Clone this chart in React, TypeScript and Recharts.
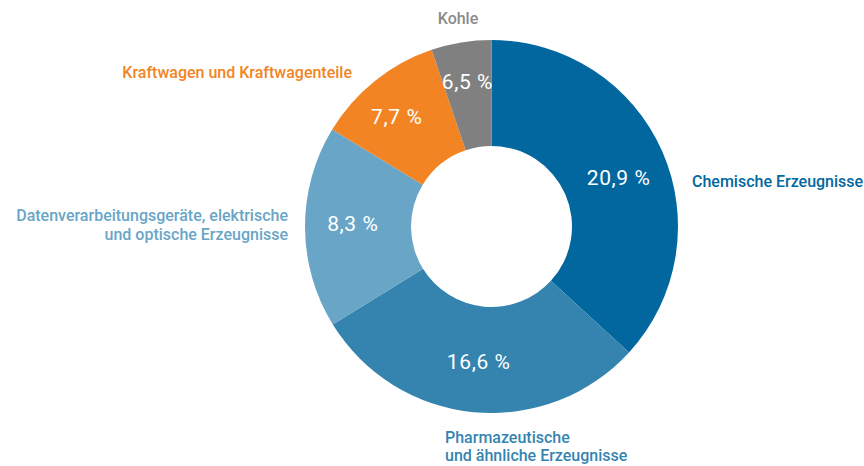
import { PieChart, Pie, Cell } from "recharts";

// slice shares (read from the arc sweeps) and the printed percentage labels
const categories = [
  "Chemische Erzeugnisse",
  "Pharmazeutische und ähnliche Erzeugnisse",
  "Datenverarbeitungsgeräte, elektrische und optische Erzeugnisse",
  "Kraftwagen und Kraftwagenteile",
  "Kohle",
];
const shares = [36.8, 29.4, 17.5, 11.1, 5.2];
const percentLabels = ["20,9 %", "16,6 %", "8,3 %", "7,7 %", "6,5 %"];
const colors = ["#03679f", "#3584b0", "#68a5c7", "#f28423", "#808080"];

const data = categories.map((name, i) => ({ name, value: shares[i], pct: percentLabels[i] }));

const W = 864;
const H = 466;
const CX = 491.5;
const CY = 226.5;
const FONT = "Roboto, Lato, sans-serif";
const RAD = Math.PI / 180;

// small hand nudges, the original labels are not exactly on the mid angle
const pctNudge: [number, number][] = [[3, 6], [0, 0], [-3, -3], [-10, -4], [-2, -11]];

function PercentLabel(props: any) {
  const { cx, cy, midAngle, innerRadius, outerRadius, index } = props;
  const r = innerRadius + (outerRadius - innerRadius) * 0.52;
  const [dx, dy] = pctNudge[index] || [0, 0];
  const x = cx + r * Math.cos(-midAngle * RAD) + dx;
  const y = cy + r * Math.sin(-midAngle * RAD) + dy;
  return (
    <text x={x} y={y} fill="#fff" textAnchor="middle" dominantBaseline="central"
          fontSize={21} fontFamily={FONT} letterSpacing={0.6}>
      {percentLabels[index]}
    </text>
  );
}

// category names sit around the ring
function CategoryNames() {
  const style = { fontFamily: FONT, fontSize: 16, fontWeight: 500 } as const;
  return (
    <svg width={W} height={H} style={{ position: "absolute", left: 0, top: 0, pointerEvents: "none" }}>
      <text x={458} y={18} textAnchor="middle" dominantBaseline="central" fill="#8a8a8a" style={style}>
        Kohle
      </text>
      <text x={352} y={72} textAnchor="end" dominantBaseline="central" fill={colors[3]} style={style}>
        Kraftwagen und Kraftwagenteile
      </text>
      <text x={692} y={181} textAnchor="start" dominantBaseline="central" fill={colors[0]} style={style}>
        Chemische Erzeugnisse
      </text>
      <text x={288} textAnchor="end" dominantBaseline="central" fill={colors[2]} style={style}>
        <tspan x={288} y={215}>Datenverarbeitungsgeräte, elektrische</tspan>
        <tspan x={288} y={234}>und optische Erzeugnisse</tspan>
      </text>
      <text x={445} textAnchor="start" dominantBaseline="central" fill={colors[1]} style={style}>
        <tspan x={445} y={437}>Pharmazeutische</tspan>
        <tspan x={445} y={455}>und ähnliche Erzeugnisse</tspan>
      </text>
    </svg>
  );
}

export default function App() {
  return (
    <div style={{ position: "absolute", left: 0, top: 0, width: W, height: H, overflow: "hidden", background: "#fff" }}>
      <PieChart width={W} height={H} margin={{ top: 0, right: 0, bottom: 0, left: 0 }}>
        <Pie
          data={data}
          dataKey="value"
          nameKey="name"
          cx={CX}
          cy={CY}
          innerRadius={80.5}
          outerRadius={186.5}
          startAngle={90}
          endAngle={-270}
          stroke="none"
          label={PercentLabel}
          labelLine={false}
          isAnimationActive={false}
        >
          {data.map((d, i) => (
            <Cell key={d.name} fill={colors[i]} />
          ))}
        </Pie>
      </PieChart>
      <CategoryNames />
    </div>
  );
}
